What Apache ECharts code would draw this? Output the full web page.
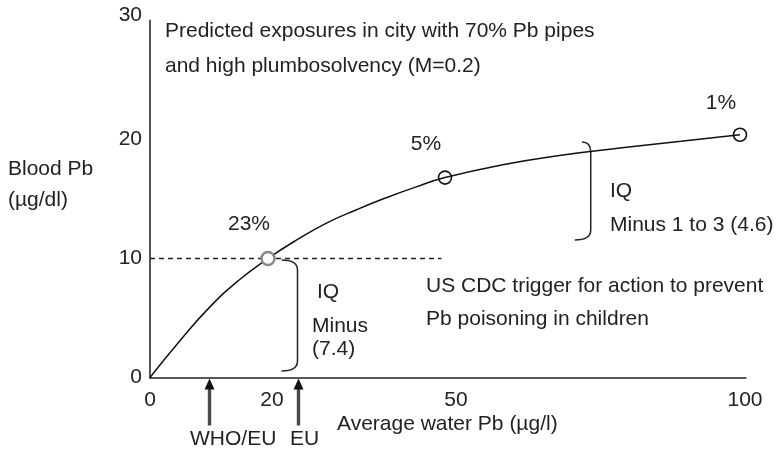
<!DOCTYPE html>
<html>
<head>
<meta charset="utf-8">
<style>
  html, body { margin: 0; padding: 0; background: #fff; }
  #chart { width: 779px; height: 450px; }
</style>
<script src="https://cdn.jsdelivr.net/npm/echarts@6/dist/echarts.min.js"></script>
</head>
<body>
<div id="chart"></div>
<script>
// Predicted blood lead vs. average water lead
const curveX = [0, 5, 10, 15, 20, 25, 30, 35, 40, 45, 50, 60, 70, 80, 90, 100];
const curveY = [0, 3.05, 5.85, 8.15, 10.0, 11.6, 13.0, 14.1, 15.1, 16.0, 16.8, 17.9, 18.7, 19.3, 19.85, 20.4];

// Marked exposure points and the share of children above the CDC level
const pointX = [20, 50, 100];
const pointY = [10, 16.8, 20.4];
const pointShare = ['23%', '5%', '1%'];

// CDC action level
const cdcLevel = 10;
const cdcLineEnd = 49.4;

// Water standards marked under the axis
const standardX = [10, 25];

// Axis ticks
const xTicks = [0, 20, 50, 100];
const yTicks = [0, 10, 20, 30];

// IQ brackets: [x of the top end, x of the spine, y top, y bottom, x of bottom end]
const bracketA = [22.3, 25.0, 9.87, 0.55, 22.3];
const bracketB = [73.2, 74.7, 19.8, 11.55, 72.0];

const FONT = '"Liberation Sans", Arial, Helvetica, sans-serif';
const TXT = '#222';

const chart = echarts.init(document.getElementById('chart'));

const notes = [
  { t: 'Predicted exposures in city with 70% Pb pipes', x: 165, y: 31 },
  { t: 'and high plumbosolvency (M=0.2)', x: 165, y: 66 },
  { t: 'Blood Pb', x: 8, y: 169 },
  { t: '(\u00b5g/dl)', x: 8, y: 200 },
  { t: 'IQ', x: 610, y: 191 },
  { t: 'Minus 1 to 3 (4.6)', x: 610, y: 225 },
  { t: 'US CDC trigger for action to prevent', x: 426, y: 286 },
  { t: 'Pb poisoning in children', x: 426, y: 319 },
  { t: 'IQ', x: 317, y: 292 },
  { t: 'Minus', x: 312, y: 326 },
  { t: '(7.4)', x: 312, y: 349 },
  { t: 'Average water Pb (\u00b5g/l)', x: 337, y: 424 },
  { t: 'WHO/EU', x: 190, y: 439 },
  { t: 'EU', x: 290, y: 439 }
];

// shift of each x tick label to the right, px
const xLabelShift = { 0: 0, 20: 4, 50: 11, 100: 5 };

function bracketPath(api, b) {
  const top = api.coord([b[0], b[2]]);
  const spineTop = api.coord([b[1], b[2]]);
  const spineBot = api.coord([b[1], b[3]]);
  const bot = api.coord([b[4], b[3]]);
  const r = 10;
  const sx = spineTop[0];
  return 'M' + top[0] + ' ' + top[1] +
    ' Q' + sx + ' ' + top[1] + ' ' + sx + ' ' + (top[1] + r) +
    ' L' + sx + ' ' + (spineBot[1] - r) +
    ' Q' + sx + ' ' + bot[1] + ' ' + bot[0] + ' ' + bot[1];
}

const option = {
  backgroundColor: '#fff',
  animation: false,
  textStyle: { fontFamily: FONT, color: TXT },
  grid: { left: 150, top: 20.5, width: 595.9, height: 357, containLabel: false },
  xAxis: {
    type: 'value', min: 0, max: 101,
    axisLine: { show: true, lineStyle: { color: '#222', width: 1.5 } },
    axisTick: { show: false },
    splitLine: { show: false },
    axisLabel: {
      customValues: xTicks,
      margin: 12,
      fontSize: 21, fontFamily: FONT, color: TXT,
      formatter: function (v) { return '{s' + v + '|' + v + '}'; },
      rich: (function () {
        const r = {};
        xTicks.forEach(function (v) {
          r['s' + v] = { fontSize: 21, fontFamily: FONT, color: TXT, padding: [0, 0, 0, 2 * xLabelShift[v]] };
        });
        return r;
      })()
    }
  },
  yAxis: {
    type: 'value', min: 0, max: 30,
    axisLine: { show: true, lineStyle: { color: '#555', width: 2 } },
    axisTick: { show: false },
    splitLine: { show: false },
    axisLabel: {
      customValues: yTicks,
      margin: 8,
      fontSize: 21, fontFamily: FONT, color: TXT,
      formatter: function (v) { return v === 30 ? '{top|30}' : '' + v; },
      rich: { top: { fontSize: 21, fontFamily: FONT, color: TXT, padding: [0, 0, 10, 0] } }
    }
  },
  graphic: notes.map(function (n) {
    return {
      type: 'text', x: n.x, y: n.y, z: 10,
      style: { text: n.t, fill: TXT, font: '21px ' + FONT, verticalAlign: 'middle', align: 'left' }
    };
  }),
  series: [
    {
      type: 'line', name: 'cdc',
      data: [[0, cdcLevel], [cdcLineEnd, cdcLevel]],
      showSymbol: false, silent: true,
      lineStyle: { color: '#222', width: 1.3, type: [5, 4] }
    },
    {
      type: 'line', name: 'blood',
      data: curveX.map(function (x, i) { return [x, curveY[i]]; }),
      smooth: 0.5,
      showSymbol: false, silent: true,
      lineStyle: { color: '#111', width: 1.5 }
    },
    {
      type: 'scatter', name: 'points',
      symbol: 'circle', symbolSize: 13,
      silent: true,
      itemStyle: { opacity: 1 },
      data: pointX.map(function (x, i) {
        const first = i === 0;
        return {
          value: [x, pointY[i]],
          itemStyle: first
            ? { color: '#fff', borderColor: '#888', borderWidth: 2.5, opacity: 1 }
            : { color: 'rgba(0,0,0,0)', borderColor: '#111', borderWidth: 1.6, opacity: 1 },
          label: { offset: [-19, i === 2 ? -14 : -16] }
        };
      }),
      label: {
        show: true,
        formatter: function (p) { return pointShare[p.dataIndex]; },
        position: 'top', distance: 0, offset: [-19, -16],
        fontSize: 21, fontFamily: FONT, color: TXT, opacity: 1, textBorderWidth: 0
      },
      z: 5
    },
    {
      type: 'custom', name: 'brackets', clip: false, silent: true,
      data: [0, 1],
      renderItem: function (params, api) {
        const b = params.dataIndex === 0 ? bracketA : bracketB;
        return {
          type: 'path',
          shape: { pathData: bracketPath(api, b) },
          style: { fill: 'none', stroke: '#222', lineWidth: 1.5 }
        };
      }
    },
    {
      type: 'custom', name: 'standards', clip: false, silent: true,
      data: standardX.map(function (x) { return [x, 0]; }),
      renderItem: function (params, api) {
        const p = api.coord([api.value(0), 0]);
        const x = Math.round(p[0]) + 0.5;
        const tip = p[1] + 1;
        return {
          type: 'group',
          children: [
            { type: 'rect', shape: { x: x - 1.7, y: tip + 8, width: 3.4, height: 39 }, style: { fill: '#4a4a4a' } },
            { type: 'polygon', shape: { points: [[x, tip], [x - 5, tip + 11], [x + 5, tip + 11]] }, style: { fill: '#111' } }
          ]
        };
      }
    }
  ]
};

chart.setOption(option);
</script>
</body>
</html>
